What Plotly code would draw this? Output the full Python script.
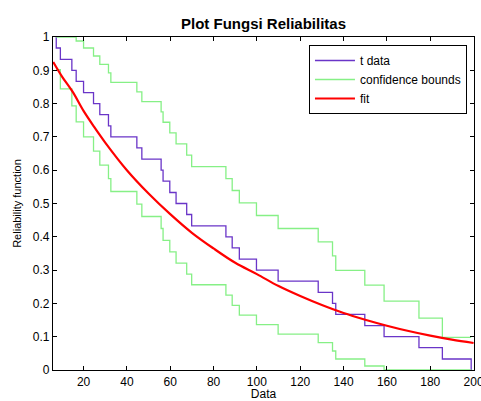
import plotly.graph_objects as go

# Event times (sorted data)
times = [7.4, 9.3, 14.6, 16.6, 20.0, 24.6, 27.5, 31.5, 32.6, 44.6,
         46.9, 55.8, 56.7, 59.8, 62.7, 67.6, 69.9, 85.7, 88.6, 91.9,
         99.8, 109.8, 128.3, 134.9, 136.4, 149.8, 158.7, 174.8, 185.6, 198.9]

# Empirical reliability after each event (start at 1)
surv = [1.0, 0.967, 0.933, 0.9, 0.867, 0.833, 0.8, 0.767, 0.733, 0.7, 0.667,
        0.633, 0.6, 0.567, 0.533, 0.5, 0.467, 0.433, 0.4, 0.367, 0.333,
        0.3, 0.267, 0.233, 0.2, 0.167, 0.133, 0.1, 0.067, 0.033, 0.0]

# Confidence bounds after each event (29 levels; last level held to final event)
upper = [1.0, 1.0, 1.0, 0.988, 0.967, 0.943, 0.918, 0.892, 0.864, 0.835,
         0.806, 0.775, 0.744, 0.712, 0.679, 0.645, 0.611, 0.575, 0.539, 0.502,
         0.464, 0.425, 0.385, 0.343, 0.299, 0.255, 0.207, 0.156, 0.098]
lower = [0.902, 0.844, 0.793, 0.745, 0.700, 0.657, 0.615, 0.575, 0.536, 0.498,
         0.461, 0.425, 0.389, 0.355, 0.321, 0.288, 0.256, 0.225, 0.194, 0.165,
         0.136, 0.108, 0.082, 0.057, 0.033, 0.012, 0.0, 0.0, 0.0]

# Fitted reliability curve
fit_x = [6, 10, 15, 20, 25, 30, 40, 50, 60, 70, 80, 90, 100, 110, 120,
         130, 140, 150, 160, 170, 180, 190, 200]
fit_y = [0.925, 0.882, 0.835, 0.778, 0.729, 0.683, 0.600, 0.530, 0.468,
         0.412, 0.365, 0.322, 0.288, 0.252, 0.222, 0.195, 0.171, 0.151,
         0.133, 0.117, 0.103, 0.091, 0.081]

x_ticks = [20, 40, 60, 80, 100, 120, 140, 160, 180, 200]
y_ticks = [0, 0.1, 0.2, 0.3, 0.4, 0.5, 0.6, 0.7, 0.8, 0.9, 1]
y_tick_text = ["0", "0.1", "0.2", "0.3", "0.4", "0.5", "0.6", "0.7", "0.8", "0.9", "1"]

PURPLE = "#6a35c8"
GREEN = "#86f086"
RED = "#ff0000"
FONT = "Liberation Sans, Arial, sans-serif"

fig = go.Figure()

# t data stairs
fig.add_trace(go.Scatter(
    x=[times[0]] + times, y=surv, mode="lines", line_shape="hv",
    line=dict(color=PURPLE, width=1.3), name="t data"))

# confidence bounds
fig.add_trace(go.Scatter(
    x=times, y=upper + [upper[-1]], mode="lines", line_shape="hv",
    line=dict(color=GREEN, width=1.3), name="confidence bounds",
    legendgroup="cb"))
fig.add_trace(go.Scatter(
    x=times, y=lower + [lower[-1]], mode="lines", line_shape="hv",
    line=dict(color=GREEN, width=1.3), name="confidence bounds",
    legendgroup="cb", showlegend=False))

# fit
fig.add_trace(go.Scatter(
    x=fit_x, y=fit_y, mode="lines", line_shape="spline",
    line=dict(color=RED, width=2.2), name="fit"))

fig.update_layout(
    width=481, height=401,
    margin=dict(l=53, r=7, t=37, b=31),
    paper_bgcolor="white", plot_bgcolor="white",
    font=dict(family=FONT, size=12, color="black"),
    title=dict(text="<b>Plot Fungsi Reliabilitas</b>", x=0.5, xref="paper",
               y=1 - 24 / 401, yref="container", yanchor="middle",
               font=dict(size=15, family=FONT, color="black")),
    showlegend=True,
    legend=dict(x=0.608, y=0.976, xanchor="left", yanchor="top",
                bgcolor="white", bordercolor="black", borderwidth=1,
                font=dict(size=12, family=FONT), tracegroupgap=0,
                itemwidth=40),
)

fig.update_xaxes(
    range=[5.9, 200.2], tickvals=x_ticks, ticks="inside", ticklen=4,
    tickcolor="black", showline=True, linecolor="black", linewidth=1.3,
    mirror="ticks", showgrid=False, zeroline=False, automargin=False,
    ticklabeloverflow="allow",
    title=dict(text="Data", standoff=5, font=dict(size=12)),
    tickfont=dict(size=12))
fig.update_yaxes(
    range=[0, 1], tickvals=y_ticks, ticktext=y_tick_text, ticks="inside",
    ticklen=4, tickcolor="black", showline=True, linecolor="black",
    linewidth=1.3, mirror="ticks", showgrid=False, zeroline=False,
    automargin=False,
    title=dict(text="Reliability function", standoff=8, font=dict(size=11)),
    tickfont=dict(size=12))

fig.write_html(
    "out.html",
    config={"displayModeBar": False},
    post_script="document.body.style.margin='0';document.body.style.padding='0';"
                "document.documentElement.style.overflow='hidden';")
